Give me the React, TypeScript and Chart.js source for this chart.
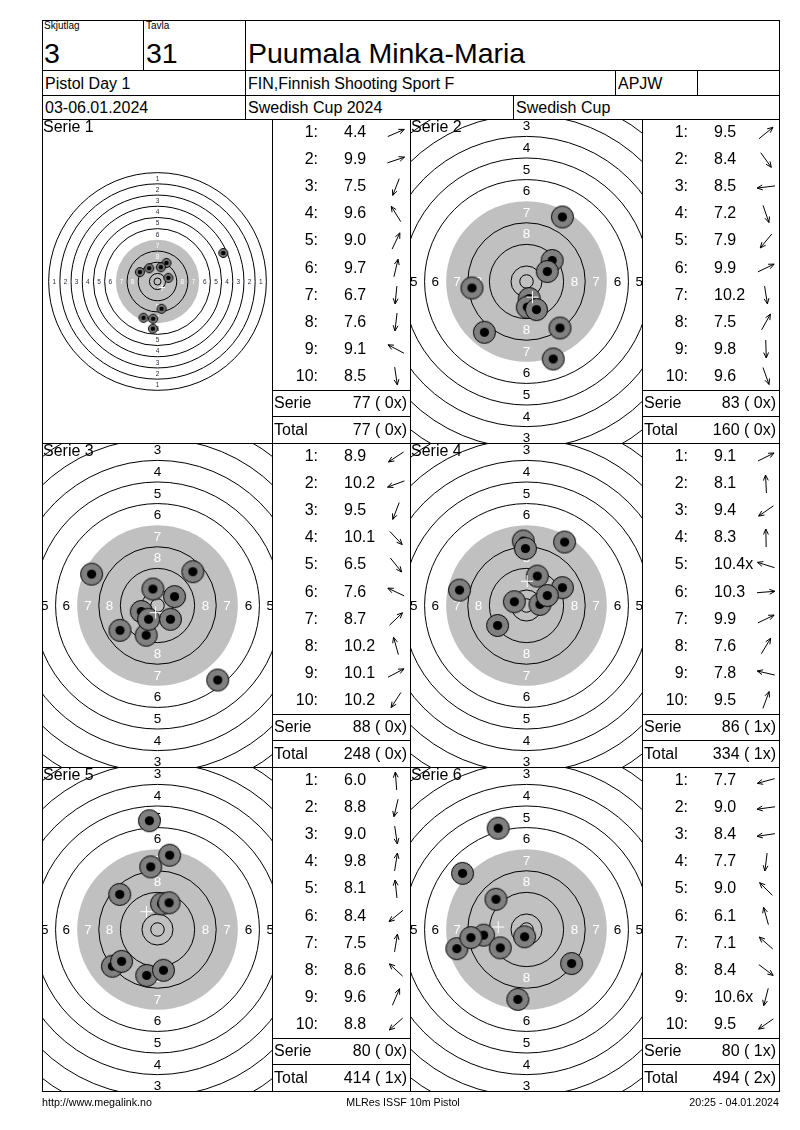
import React, { useEffect, useRef } from "react";
import { Chart, registerables } from "chart.js";

Chart.register(...registerables);

const FONT = '"Liberation Sans", Arial, Helvetica, sans-serif';

// ---------- header / footer texts ----------
const squadLabel = "Skjutlag";
const laneLabel = "Tavla";
const squad = "3";
const lane = "31";
const shooterName = "Puumala Minka-Maria";
const eventName = "Pistol Day 1";
const clubName = "FIN,Finnish Shooting Sport F";
const classCode = "APJW";
const dateText = "03-06.01.2024";
const competition = "Swedish Cup 2024";
const competitionShort = "Swedish Cup";
const footerLeft = "http://www.megalink.no";
const footerCenter = "MLRes ISSF 10m Pistol";
const footerRight = "20:25 - 04.01.2024";

// ---------- series data (shot scores, shot positions in mm from centre) ----------
const serieNames = ["Serie 1", "Serie 2", "Serie 3", "Serie 4", "Serie 5", "Serie 6"];

const serie1Scores = ["4.4", "9.9", "7.5", "9.6", "9.0", "9.7", "6.7", "7.6", "9.1", "8.5"];
const serie1X = [47.0, 7.8, -10.0, -5.9, 6.4, 2.4, -3.3, -3.1, -12.6, 2.9];
const serie1Y = [20.4, 2.6, -25.9, 9.5, 13.3, 10.2, -33.7, -26.6, 6.7, -19.5];

const serie2Scores = ["9.5", "8.4", "8.5", "7.2", "7.9", "9.9", "10.2", "7.5", "9.8", "9.6"];
const serie2X = [9.5, 12.4, -20.2, 9.9, -15.6, 7.7, 1.0, 13.3, 0.3, 3.7];
const serie2Y = [7.8, -17.2, -2.4, -28.7, -18.8, 3.7, -6.3, 23.9, -9.5, -10.4];

const serie3Scores = ["8.9", "10.2", "9.5", "10.1", "6.5", "7.6", "8.7", "10.2", "10.1", "10.2"];
const serie3X = [-13.9, -6.0, -4.2, 4.8, 22.3, -24.4, 13.1, -1.7, 6.3, -3.3];
const serie3Y = [-9.2, -2.2, -11.0, -5.1, -27.6, 11.6, 12.5, 6.1, 3.3, -5.1];

const serie4Scores = ["9.1", "8.1", "9.4", "8.3", "10.4x", "10.3", "9.9", "7.6", "7.8", "9.5"];
const serie4X = [13.3, -1.2, -10.7, -0.4, -4.5, 5.0, 7.7, 14.1, -24.8, 4.0];
const serie4Y = [6.6, 23.9, -7.4, 21.1, 1.4, 0.4, 3.7, 23.5, 5.7, 10.9];

const serie5Scores = ["6.0", "8.8", "9.0", "9.8", "8.1", "8.4", "7.5", "8.6", "9.6", "8.8"];
const serie5X = [-3.0, -4.0, 2.2, 1.5, -2.5, -16.7, 4.5, -14.0, 4.3, -13.3];
const serie5Y = [40.3, -17.0, -15.1, 9.5, 23.2, -13.6, 27.5, 13.0, 9.9, -11.8];

const serie6Scores = ["7.7", "9.0", "8.4", "7.7", "9.0", "6.1", "7.1", "8.4", "10.6x", "9.5"];
const serie6X = [-25.8, -15.9, -20.6, -3.2, -11.3, -10.5, -23.7, 16.7, -0.7, -9.7];
const serie6Y = [-7.1, -2.1, -3.0, -25.9, 11.2, 37.5, 20.8, -12.6, -2.7, -6.8];

const serieSums = ["77 ( 0x)", "83 ( 0x)", "88 ( 0x)", "86 ( 1x)", "80 ( 0x)", "80 ( 1x)"];
const runningTotals = ["77 ( 0x)", "160 ( 0x)", "248 ( 0x)", "334 ( 1x)", "414 ( 1x)", "494 ( 2x)"];

// ---------- target geometry (ISSF 10 m air pistol, mm) ----------
const ringNumbers = [1, 2, 3, 4, 5, 6, 7, 8, 9, 10];
const labelledRings = [1, 2, 3, 4, 5, 6, 7, 8];
const BLACK_RING = 7;
const INNER_TEN = 2.5;
const ringRadius = (n: number) => 5.75 + (10 - n) * 8;

const series = [
  { scores: serie1Scores, xs: serie1X, ys: serie1Y },
  { scores: serie2Scores, xs: serie2X, ys: serie2Y },
  { scores: serie3Scores, xs: serie3X, ys: serie3Y },
  { scores: serie4Scores, xs: serie4X, ys: serie4Y },
  { scores: serie5Scores, xs: serie5X, ys: serie5Y },
  { scores: serie6Scores, xs: serie6X, ys: serie6Y },
];

// ---------- layout (styles) ----------
const ROW_TOPS = [119, 443, 767];
const PANEL_H = 324;
const TARGET_COLS = [
  [42, 272],
  [410, 642],
];
const TABLE_COLS = [
  [272, 410],
  [642, 779],
];
const bigStyle = { ppm: 2.7, shotR: 11.5, shotInner: 4.6, crossR: 6, labelSize: 13.5, labelColor: "#000" };
const targetStyles = [
  { ppm: 1.4, shotR: 5, shotInner: 2.3, crossR: 3, labelSize: 6.5, labelColor: "#2a2a40" },
  bigStyle,
  bigStyle,
  bigStyle,
  bigStyle,
  bigStyle,
];

const targetPlugin = {
  id: "target",
  beforeDatasetsDraw(chart: any, _args: any, opts: any) {
    const { ctx } = chart;
    const xs = chart.scales.x;
    const ys = chart.scales.y;
    const cx = xs.getPixelForValue(0);
    const cy = ys.getPixelForValue(0);
    const px = (mm: number) => Math.abs(xs.getPixelForValue(mm) - cx);
    ctx.save();
    ctx.fillStyle = "#ffffff";
    ctx.fillRect(0, 0, chart.width, chart.height);
    ctx.fillStyle = "#c0c0c0";
    ctx.beginPath();
    ctx.arc(cx, cy, px(ringRadius(BLACK_RING)), 0, Math.PI * 2);
    ctx.fill();
    ctx.strokeStyle = "#000";
    ctx.lineWidth = 1;
    for (const n of ringNumbers) {
      if (n === BLACK_RING) continue;
      ctx.beginPath();
      ctx.arc(cx, cy, px(ringRadius(n)), 0, Math.PI * 2);
      ctx.stroke();
    }
    ctx.beginPath();
    ctx.arc(cx, cy, px(INNER_TEN), 0, Math.PI * 2);
    ctx.stroke();
    const size = opts.labelSize;
    ctx.font = `${size}px ${FONT}`;
    ctx.textAlign = "center";
    ctx.textBaseline = "alphabetic";
    const dy = size * 0.358;
    for (const n of labelledRings) {
      const r = px(ringRadius(n) - 4);
      ctx.fillStyle = n >= BLACK_RING ? "#ffffff" : opts.labelColor;
      const t = String(n);
      ctx.fillText(t, cx - r, cy + dy);
      ctx.fillText(t, cx + r, cy + dy);
      ctx.fillText(t, cx, cy - r + dy);
      ctx.fillText(t, cx, cy + r + dy);
    }
    ctx.restore();
  },
};

function makeShotImage(R: number, r: number) {
  const s = Math.ceil(2 * R + 2);
  const c = document.createElement("canvas");
  c.width = s;
  c.height = s;
  const g = c.getContext("2d")!;
  g.fillStyle = "#808080";
  g.strokeStyle = "#000";
  g.lineWidth = 1;
  g.beginPath();
  g.arc(s / 2, s / 2, R - 0.5, 0, Math.PI * 2);
  g.fill();
  g.stroke();
  g.fillStyle = "#000";
  g.beginPath();
  g.arc(s / 2, s / 2, r, 0, Math.PI * 2);
  g.fill();
  return c;
}

function Target({ k }: { k: number }) {
  const ref = useRef<HTMLCanvasElement>(null);
  const row = Math.floor(k / 2);
  const col = k % 2;
  const [x1, x2] = TARGET_COLS[col];
  const top = ROW_TOPS[row];
  const w = x2 - x1 - 1;
  const h = PANEL_H - 1;
  useEffect(() => {
    const st = targetStyles[k];
    const s = series[k];
    const hx = w / 2 / st.ppm;
    const hy = h / 2 / st.ppm;
    const meanX = s.xs.reduce((a, b) => a + b, 0) / s.xs.length;
    const meanY = s.ys.reduce((a, b) => a + b, 0) / s.ys.length;
    const img = makeShotImage(st.shotR, st.shotInner);
    const chart = new Chart(ref.current!, {
      type: "scatter",
      data: {
        datasets: [
          {
            label: "mpi",
            data: [{ x: meanX, y: meanY }],
            pointStyle: "cross",
            pointRadius: st.crossR,
            borderColor: "#ffffff",
            backgroundColor: "#ffffff",
            borderWidth: 1,
            order: 0,
            clip: false,
          } as any,
          {
            label: "shots",
            data: s.xs.map((x, i) => ({ x, y: s.ys[i] })),
            pointStyle: img as any,
            pointRadius: st.shotR,
            order: 1,
            clip: false,
          } as any,
        ],
      },
      options: {
        animation: false,
        responsive: false,
        maintainAspectRatio: false,
        events: [],
        layout: { padding: 0, autoPadding: false },
        scales: {
          x: { type: "linear", min: -hx, max: hx, display: false },
          y: { type: "linear", min: -hy, max: hy, display: false },
        },
        plugins: {
          legend: { display: false },
          tooltip: { enabled: false },
          target: { labelSize: st.labelSize, labelColor: st.labelColor },
        } as any,
      },
      plugins: [targetPlugin as any],
    });
    return () => chart.destroy();
  }, []);
  return (
    <canvas
      ref={ref}
      width={w}
      height={h}
      style={{ position: "absolute", left: x1 + 1, top: top + 1, width: w, height: h }}
    />
  );
}

function Arrow({ angle, cx, cy }: { angle: number; cx: number; cy: number }) {
  const L = 9;
  const c = Math.cos(angle);
  const s = Math.sin(angle);
  const x1 = -c * L;
  const y1 = s * L;
  const x2 = c * L;
  const y2 = -s * L;
  const head = 6;
  const spread = 0.42;
  const back = angle + Math.PI;
  const h1x = x2 + head * Math.cos(back - spread);
  const h1y = y2 - head * Math.sin(back - spread);
  const h2x = x2 + head * Math.cos(back + spread);
  const h2y = y2 - head * Math.sin(back + spread);
  return (
    <svg
      width={24}
      height={24}
      viewBox="-12 -12 24 24"
      style={{ position: "absolute", left: cx - 12, top: cy - 12 }}
    >
      <path
        d={`M${x1},${y1} L${x2},${y2} M${h1x},${h1y} L${x2},${y2} L${h2x},${h2y}`}
        stroke="#000"
        strokeWidth={1}
        fill="none"
      />
    </svg>
  );
}

function Box({ x1, y1, x2, y2 }: { x1: number; y1: number; x2: number; y2: number }) {
  return (
    <div
      style={{
        position: "absolute",
        left: x1,
        top: y1,
        width: x2 - x1 + 1,
        height: y2 - y1 + 1,
        border: "1px solid #000",
        boxSizing: "border-box",
      }}
    />
  );
}

function Txt({
  x,
  y,
  h,
  size,
  children,
  align,
  w,
}: {
  x: number;
  y: number;
  h: number;
  size: number;
  children: any;
  align?: "left" | "right" | "center";
  w?: number;
}) {
  return (
    <div
      style={{
        position: "absolute",
        left: x,
        top: y,
        height: h,
        lineHeight: `${h}px`,
        fontSize: size,
        width: w,
        textAlign: align || "left",
        whiteSpace: "nowrap",
      }}
    >
      {children}
    </div>
  );
}

function ScoreTable({ k }: { k: number }) {
  const row = Math.floor(k / 2);
  const col = k % 2;
  const [x1, x2] = TABLE_COLS[col];
  const top = ROW_TOPS[row];
  const s = series[k];
  const step = 27.1;
  return (
    <>
      <Box x1={x1} y1={top} x2={x2} y2={top + PANEL_H} />
      <div style={{ position: "absolute", left: x1, top: top + 271, width: x2 - x1, height: 1, background: "#000" }} />
      <div style={{ position: "absolute", left: x1, top: top + 297, width: x2 - x1, height: 1, background: "#000" }} />
      {s.scores.map((sc, i) => {
        const ty = top - 1 + step * i;
        return (
          <React.Fragment key={i}>
            <Txt x={x1} y={ty} h={27} size={16} w={46} align="right">
              {`${i + 1}:`}
            </Txt>
            <Txt x={x1 + 72} y={ty} h={27} size={16}>
              {sc}
            </Txt>
            <Arrow angle={Math.atan2(s.ys[i], s.xs[i])} cx={x1 + 124} cy={ty + 14.5} />
          </React.Fragment>
        );
      })}
      <Txt x={x1 + 2} y={top + 271} h={26} size={16}>
        Serie
      </Txt>
      <Txt x={x1} y={top + 271} h={26} size={16} w={x2 - x1 - 3} align="right">
        {serieSums[k]}
      </Txt>
      <Txt x={x1 + 2} y={top + 297} h={27} size={16}>
        Total
      </Txt>
      <Txt x={x1} y={top + 297} h={27} size={16} w={x2 - x1 - 3} align="right">
        {runningTotals[k]}
      </Txt>
    </>
  );
}

function TargetPanel({ k }: { k: number }) {
  const row = Math.floor(k / 2);
  const col = k % 2;
  const [x1, x2] = TARGET_COLS[col];
  const top = ROW_TOPS[row];
  return (
    <>
      <Box x1={x1} y1={top} x2={x2} y2={top + PANEL_H} />
      <Target k={k} />
      <Txt x={x1 + 1} y={top} h={16} size={16}>
        {serieNames[k]}
      </Txt>
    </>
  );
}

export default function App() {
  return (
    <div
      style={{
        position: "absolute",
        left: 0,
        top: 0,
        width: 800,
        height: 1130,
        background: "#fff",
        fontFamily: FONT,
        color: "#000",
        overflow: "hidden",
      }}
    >
      {/* header */}
      <Box x1={42} y1={20} x2={143} y2={70} />
      <Box x1={143} y1={20} x2={245} y2={70} />
      <Box x1={245} y1={20} x2={779} y2={70} />
      <Box x1={42} y1={70} x2={245} y2={95} />
      <Box x1={245} y1={70} x2={615} y2={95} />
      <Box x1={615} y1={70} x2={697} y2={95} />
      <Box x1={697} y1={70} x2={779} y2={95} />
      <Box x1={42} y1={95} x2={245} y2={119} />
      <Box x1={245} y1={95} x2={513} y2={119} />
      <Box x1={513} y1={95} x2={779} y2={119} />

      <Txt x={44} y={21} h={10} size={10}>
        {squadLabel}
      </Txt>
      <Txt x={146} y={21} h={10} size={10}>
        {laneLabel}
      </Txt>
      <Txt x={44} y={38.5} h={28} size={28.5}>
        {squad}
      </Txt>
      <Txt x={146} y={38.5} h={28} size={28.5}>
        {lane}
      </Txt>
      <Txt x={248} y={38.5} h={28} size={28.5}>
        {shooterName}
      </Txt>
      <Txt x={45} y={71} h={25} size={16}>
        {eventName}
      </Txt>
      <Txt x={248} y={71} h={25} size={16}>
        {clubName}
      </Txt>
      <Txt x={618} y={71} h={25} size={16}>
        {classCode}
      </Txt>
      <Txt x={45} y={95.5} h={24} size={16}>
        {dateText}
      </Txt>
      <Txt x={248} y={95.5} h={24} size={16}>
        {competition}
      </Txt>
      <Txt x={516} y={95.5} h={24} size={16}>
        {competitionShort}
      </Txt>

      {/* panels */}
      {[0, 1, 2, 3, 4, 5].map((k) => (
        <React.Fragment key={k}>
          <TargetPanel k={k} />
          <ScoreTable k={k} />
        </React.Fragment>
      ))}

      {/* footer */}
      <Txt x={42} y={1096} h={12} size={10.7}>
        {footerLeft}
      </Txt>
      <Txt x={303} y={1096} h={12} size={10.7} w={200} align="center">
        {footerCenter}
      </Txt>
      <Txt x={579} y={1096} h={12} size={10.7} w={200} align="right">
        {footerRight}
      </Txt>
    </div>
  );
}
